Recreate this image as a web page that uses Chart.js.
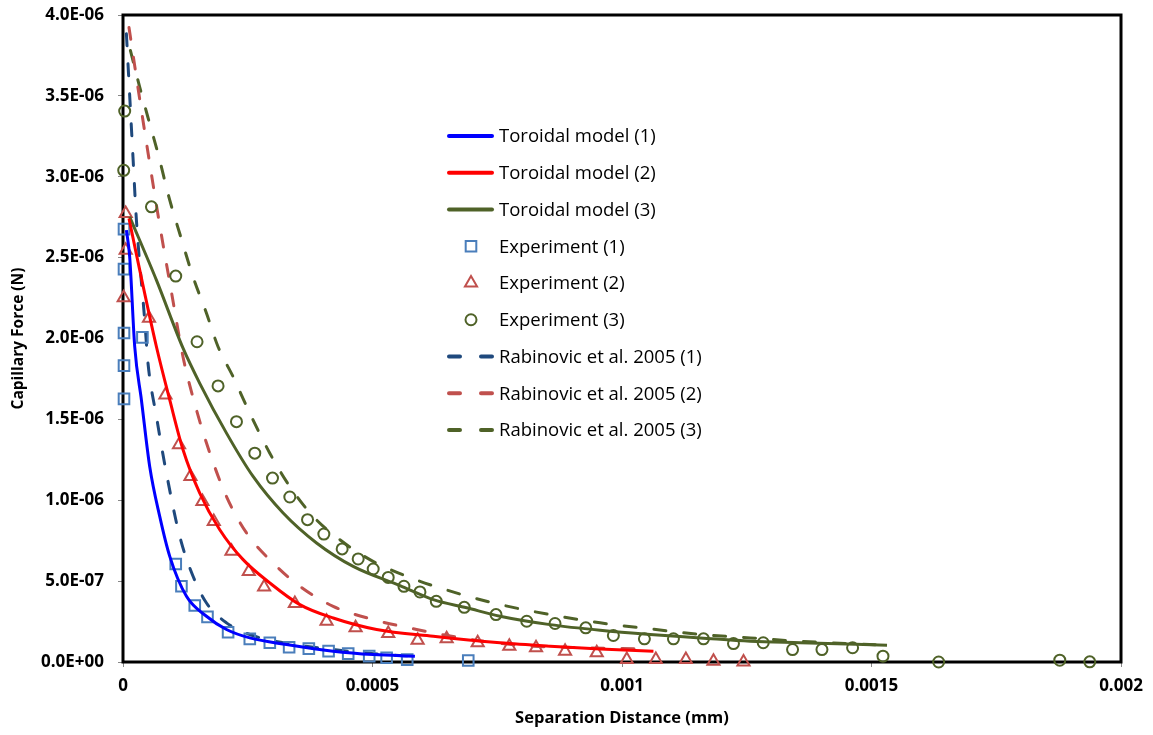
<!DOCTYPE html>
<html>
<head>
<meta charset="utf-8">
<script src="https://cdn.jsdelivr.net/npm/chart.js@4.4.1/dist/chart.umd.min.js"></script>
<style>
  html, body { margin: 0; padding: 0; background: #fff; }
  canvas { display: block; }
</style>
</head>
<body>
<canvas id="grafCapilar" width="1153" height="735"></canvas>
<script>
// Capillary force vs separation distance
const toro1X = [0.0000068, 0.0000134, 0.0000235, 0.0000369, 0.0000535, 0.0000736, 0.0000937, 0.0001272, 0.0001673, 0.0002074, 0.0002541, 0.0003277, 0.0004212, 0.0005014, 0.000585];
const toro1Y = [2.67e-6, 2.505e-6, 1.949e-6, 1.62e-6, 1.209e-6, 0.9e-6, 0.653e-6, 0.406e-6, 0.283e-6, 0.201e-6, 0.149e-6, 0.108e-6, 0.067e-6, 0.046e-6, 0.036e-6];

const toro2X = [0.000012, 0.0000269, 0.000067, 0.0000937, 0.0001203, 0.0001538, 0.0001939, 0.0002407, 0.0002942, 0.0003544, 0.0004212, 0.0005082, 0.0006217, 0.0007555, 0.0008558, 0.0009561, 0.001063];
const toro2Y = [2.742e-6, 2.52e-6, 1.949e-6, 1.62e-6, 1.312e-6, 1.044e-6, 0.818e-6, 0.633e-6, 0.489e-6, 0.355e-6, 0.272e-6, 0.201e-6, 0.159e-6, 0.119e-6, 0.098e-6, 0.081e-6, 0.067e-6];

const toro3X = [0.0000134, 0.000067, 0.0001203, 0.0001538, 0.0002074, 0.0002607, 0.0003209, 0.0003879, 0.0004613, 0.000555, 0.0006217, 0.0006887, 0.0007555, 0.0008558, 0.0009561, 0.0010564, 0.0011567, 0.001257, 0.0013572, 0.0015311];
const toro3Y = [2.752e-6, 2.361e-6, 1.94e-6, 1.723e-6, 1.415e-6, 1.147e-6, 0.921e-6, 0.736e-6, 0.591e-6, 0.472e-6, 0.386e-6, 0.335e-6, 0.283e-6, 0.231e-6, 0.196e-6, 0.17e-6, 0.149e-6, 0.128e-6, 0.119e-6, 0.104e-6];

const exp1X = [0.000002, 0.000002, 0.000002, 0.000002, 0.000002, 0.0000389, 0.0001057, 0.0001171, 0.0001438, 0.0001693, 0.0002106, 0.0002541, 0.0002942, 0.0003329, 0.0003724, 0.000412, 0.0004513, 0.0004934, 0.0005283, 0.0005696, 0.0006919];
const exp1Y = [2.676e-6, 2.429e-6, 2.034e-6, 1.832e-6, 1.627e-6, 2.007e-6, 0.606e-6, 0.468e-6, 0.349e-6, 0.279e-6, 0.184e-6, 0.143e-6, 0.119e-6, 0.091e-6, 0.083e-6, 0.067e-6, 0.052e-6, 0.036e-6, 0.026e-6, 0.015e-6, 0.009e-6];

const exp2X = [0.0000054, 0.0000054, 0.0000014, 0.0000521, 0.000085, 0.0001123, 0.0001352, 0.0001592, 0.0001819, 0.0002174, 0.0002521, 0.0002828, 0.0003444, 0.0004079, 0.0004661, 0.0005315, 0.0005904, 0.0006486, 0.0007108, 0.0007742, 0.0008277, 0.0008859, 0.0009494, 0.0010096, 0.0010678, 0.001128, 0.0011833, 0.0012435];
const exp2Y = [2.773e-6, 2.546e-6, 2.252e-6, 2.125e-6, 1.651e-6, 1.343e-6, 1.147e-6, 0.993e-6, 0.869e-6, 0.684e-6, 0.56e-6, 0.464e-6, 0.361e-6, 0.252e-6, 0.211e-6, 0.176e-6, 0.135e-6, 0.143e-6, 0.119e-6, 0.098e-6, 0.088e-6, 0.067e-6, 0.057e-6, 0.015e-6, 0.015e-6, 0.015e-6, 0.005e-6, 0.0];

const exp3X = [0.0000034, 0.0000014, 0.000057, 0.0001057, 0.0001484, 0.0001905, 0.0002274, 0.0002641, 0.0002996, 0.0003343, 0.0003698, 0.0004025, 0.0004392, 0.0004713, 0.0005014, 0.0005315, 0.000563, 0.0005951, 0.0006278, 0.0006839, 0.0007475, 0.0008091, 0.0008658, 0.0009274, 0.0009827, 0.0010449, 0.0011031, 0.0011633, 0.0012234, 0.001283, 0.0013418, 0.0014007, 0.0014621, 0.001523, 0.0016346, 0.0018773, 0.0019374];
const exp3Y = [3.406e-6, 3.04e-6, 2.814e-6, 2.386e-6, 1.98e-6, 1.707e-6, 1.486e-6, 1.291e-6, 1.137e-6, 1.02e-6, 0.88e-6, 0.791e-6, 0.699e-6, 0.637e-6, 0.575e-6, 0.523e-6, 0.468e-6, 0.433e-6, 0.375e-6, 0.338e-6, 0.293e-6, 0.252e-6, 0.238e-6, 0.211e-6, 0.164e-6, 0.143e-6, 0.143e-6, 0.143e-6, 0.114e-6, 0.119e-6, 0.077e-6, 0.077e-6, 0.088e-6, 0.036e-6, 0.0, 0.011e-6, 0.001e-6];

const rab1X = [0.0000068, 0.00002, 0.0000269, 0.0000435, 0.0000501, 0.000067, 0.000087, 0.0001137, 0.0001404, 0.0001673, 0.0002074, 0.0002541, 0.0003209, 0.0004212, 0.0005215, 0.0005816];
const rab1Y = [3.884e-6, 3.122e-6, 2.731e-6, 2.114e-6, 1.847e-6, 1.517e-6, 1.168e-6, 0.777e-6, 0.53e-6, 0.365e-6, 0.242e-6, 0.17e-6, 0.119e-6, 0.077e-6, 0.046e-6, 0.036e-6];

const rab2X = [0.000012, 0.0000235, 0.0000369, 0.0000535, 0.0000736, 0.0000971, 0.0001203, 0.0001472, 0.0001739, 0.0002074, 0.0002475, 0.0003008, 0.0003544, 0.0004212, 0.0005014, 0.0005884, 0.0006217, 0.000722, 0.0008223, 0.0009226, 0.0010363];
const rab2Y = [3.923e-6, 3.685e-6, 3.41e-6, 3.083e-6, 2.701e-6, 2.287e-6, 1.886e-6, 1.559e-6, 1.293e-6, 1.023e-6, 0.798e-6, 0.612e-6, 0.468e-6, 0.344e-6, 0.262e-6, 0.201e-6, 0.18e-6, 0.128e-6, 0.098e-6, 0.088e-6, 0.081e-6];

const rab3X = [0.0000148, 0.0000335, 0.0000535, 0.0000702, 0.0000937, 0.0001137, 0.0001404, 0.0001673, 0.0001905, 0.0002206, 0.0002541, 0.0002942, 0.0003343, 0.0003811, 0.0004346, 0.0004948, 0.0005684, 0.0006352, 0.0007421, 0.0008558, 0.0009561, 0.0010564, 0.0011567, 0.001257, 0.0013572, 0.0015311];
const rab3Y = [3.781e-6, 3.554e-6, 3.328e-6, 3.143e-6, 2.855e-6, 2.649e-6, 2.381e-6, 2.156e-6, 1.949e-6, 1.764e-6, 1.538e-6, 1.291e-6, 1.085e-6, 0.9e-6, 0.756e-6, 0.633e-6, 0.53e-6, 0.458e-6, 0.365e-6, 0.293e-6, 0.242e-6, 0.205e-6, 0.17e-6, 0.149e-6, 0.128e-6, 0.104e-6];

const xTickValues = [0, 0.0005, 0.001, 0.0015, 0.002];
const xTickLabels = ['0', '0.0005', '0.001', '0.0015', '0.002'];
const yTickValues = [0, 5e-7, 1e-6, 1.5e-6, 2e-6, 2.5e-6, 3e-6, 3.5e-6, 4e-6];
const yTickLabels = ['0.0E+00', '5.0E-07', '1.0E-06', '1.5E-06', '2.0E-06', '2.5E-06', '3.0E-06', '3.5E-06', '4.0E-06'];

const puntos = (xs, ys) => xs.map((x, i) => ({ x: x, y: ys[i] }));

const linea = (label, xs, ys, color, dash) => ({
  label: label,
  data: puntos(xs, ys),
  showLine: true,
  borderColor: color,
  borderWidth: 3,
  borderDash: dash,
  borderCapStyle: dash.length ? 'round' : 'butt',
  cubicInterpolationMode: 'monotone',
  pointRadius: 0,
  pointHoverRadius: 0,
  clip: false
});

const marcas = (label, xs, ys, color, estilo, radio) => ({
  label: label,
  data: puntos(xs, ys),
  showLine: false,
  borderColor: color,
  backgroundColor: 'rgba(0,0,0,0)',
  pointStyle: estilo,
  pointRadius: radio,
  pointBorderWidth: 2,
  clip: false
});

const guion = [12, 18];

// borde negro del área de trazado
const marco = {
  id: 'marco',
  beforeDatasetsDraw(chart) {
    const { ctx, chartArea: a } = chart;
    ctx.save();
    ctx.strokeStyle = '#000';
    ctx.lineWidth = 3;
    ctx.strokeRect(a.left, a.top, a.right - a.left, a.bottom - a.top);
    ctx.restore();
  }
};

function dibujarMarca(ctx, estilo, x, y, r) {
  ctx.beginPath();
  if (estilo === 'rect') {
    const s = Math.SQRT1_2 * r;
    ctx.rect(x - s, y - s, 2 * s, 2 * s);
  } else if (estilo === 'triangle') {
    for (let k = 0; k < 3; k++) {
      const ang = k * 2 * Math.PI / 3;
      const px = x + Math.sin(ang) * r, py = y - Math.cos(ang) * r;
      if (k === 0) ctx.moveTo(px, py); else ctx.lineTo(px, py);
    }
    ctx.closePath();
  } else {
    ctx.arc(x, y, r, 0, Math.PI * 2);
  }
  ctx.stroke();
}

// leyenda dentro del gráfico
const leyenda = {
  id: 'leyenda',
  afterDraw(chart) {
    const ctx = chart.ctx;
    ctx.save();
    ctx.font = '18.5px "Open Sans"';
    ctx.textBaseline = 'middle';
    chart.data.datasets.forEach((ds, i) => {
      const y = 136 + i * 36.75;
      ctx.strokeStyle = ds.borderColor;
      if (ds.showLine === false) {
        ctx.lineWidth = 2;
        dibujarMarca(ctx, ds.pointStyle, 471, y, ds.pointRadius);
      } else {
        ctx.lineWidth = 4;
        ctx.lineCap = 'round';
        ctx.beginPath();
        if (ds.borderDash.length) {
          ctx.moveTo(449, y); ctx.lineTo(460, y);
          ctx.moveTo(481, y); ctx.lineTo(492, y);
        } else {
          ctx.moveTo(449, y); ctx.lineTo(492, y);
        }
        ctx.stroke();
      }
      ctx.fillStyle = '#000';
      ctx.fillText(ds.label, 499, y + 1);
    });
    ctx.restore();
  }
};

new Chart(document.getElementById('grafCapilar'), {
  type: 'scatter',
  data: {
    datasets: [
      linea('Toroidal model (1)', toro1X, toro1Y, '#0000FF', []),
      linea('Toroidal model (2)', toro2X, toro2Y, '#FF0000', []),
      linea('Toroidal model (3)', toro3X, toro3Y, '#4F6228', []),
      marcas('Experiment (1)', exp1X, exp1Y, '#4A7EBB', 'rect', 7.5),
      marcas('Experiment (2)', exp2X, exp2Y, '#C0504D', 'triangle', 7),
      marcas('Experiment (3)', exp3X, exp3Y, '#4F6228', 'circle', 5.5),
      linea('Rabinovic et al. 2005 (1)', rab1X, rab1Y, '#1F497D', guion),
      linea('Rabinovic et al. 2005 (2)', rab2X, rab2Y, '#C0504D', guion),
      linea('Rabinovic et al. 2005 (3)', rab3X, rab3Y, '#4F6228', guion)
    ]
  },
  options: {
    responsive: false,
    animation: false,
    devicePixelRatio: 1,
    layout: { padding: { top: 15, right: 32, left: 0, bottom: 0 } },
    plugins: {
      legend: { display: false },
      tooltip: { enabled: false }
    },
    scales: {
      x: {
        type: 'linear',
        min: 0,
        max: 0.002,
        afterFit: (s) => { s.height = 73; s.paddingLeft = 0; s.paddingRight = 0; },
        afterBuildTicks: (s) => { s.ticks = xTickValues.map(v => ({ value: v })); },
        grid: { drawOnChartArea: false, drawTicks: true, tickLength: 5, color: '#888' },
        border: { display: false },
        ticks: {
          padding: 9,
          color: '#000',
          font: { family: 'Open Sans', size: 17, weight: 'bold' },
          callback: (v, i) => xTickLabels[i]
        },
        title: {
          display: true,
          text: 'Separation Distance (mm)',
          color: '#000',
          font: { family: 'Open Sans', size: 16.5, weight: 'bold' },
          padding: { top: 0, bottom: 7 }
        }
      },
      y: {
        type: 'linear',
        min: 0,
        max: 4e-6,
        afterFit: (s) => { s.width = 123; s.paddingTop = 0; s.paddingBottom = 0; },
        afterBuildTicks: (s) => { s.ticks = yTickValues.map(v => ({ value: v })); },
        grid: { drawOnChartArea: false, drawTicks: true, tickLength: 5, color: '#888' },
        border: { display: false },
        ticks: {
          padding: 14,
          color: '#000',
          font: { family: 'Open Sans', size: 17, weight: 'bold' },
          callback: (v, i) => yTickLabels[i]
        },
        title: {
          display: true,
          text: 'Capillary Force (N)',
          color: '#000',
          font: { family: 'Open Sans', size: 15.5, weight: 'bold' },
          padding: { top: 9, bottom: 0 }
        }
      }
    }
  },
  plugins: [marco, leyenda]
});
</script>
</body>
</html>
